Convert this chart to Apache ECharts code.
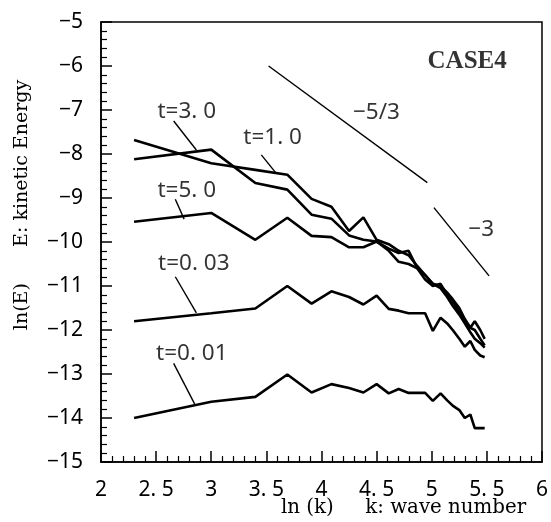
<!DOCTYPE html>
<html>
<head>
<meta charset="utf-8">
<script src="https://cdn.jsdelivr.net/npm/echarts@6/dist/echarts.min.js"></script>
<style>html,body{margin:0;padding:0;background:#fff}#c{width:551px;height:522px}</style>
</head>
<body>
<div id="c"></div>
<script>
// ln(k) positions of the spectrum samples
var lnK = [2.30, 3.00, 3.40, 3.69, 3.91, 4.09, 4.25, 4.38, 4.50, 4.61, 4.70, 4.79, 4.87, 4.94, 5.01, 5.08, 5.14, 5.19, 5.25, 5.30, 5.35, 5.39, 5.44, 5.48];
// ln(E) for each time
var e_t001 = [-14.0, -13.63, -13.52, -13.01, -13.42, -13.23, -13.32, -13.42, -13.23, -13.44, -13.34, -13.43, -13.43, -13.43, -13.61, -13.44, -13.6, -13.72, -13.82, -14.0, -13.92, -14.23, -14.23, -14.23];
var e_t003 = [-11.80, -11.62, -11.51, -11.0, -11.40, -11.12, -11.25, -11.42, -11.22, -11.52, -11.56, -11.62, -11.62, -11.62, -12.02, -11.72, -11.85, -12.0, -12.2, -12.38, -12.25, -12.45, -12.58, -12.62];
var e_t10 = [-7.68, -8.21, -8.36, -8.47, -9.02, -9.20, -9.75, -9.44, -9.95, -10.05, -10.2, -10.3, -10.55, -10.75, -10.95, -11.0, -11.15, -11.3, -11.5, -11.75, -11.95, -11.8, -12.0, -12.2];
var e_t30 = [-8.12, -7.90, -8.66, -8.81, -9.38, -9.47, -9.85, -9.95, -9.99, -10.15, -10.25, -10.2, -10.6, -10.85, -11.0, -10.95, -11.2, -11.35, -11.6, -11.8, -11.95, -12.0, -12.2, -12.35];
var e_t50 = [-9.54, -9.34, -9.95, -9.45, -9.86, -9.89, -10.12, -10.12, -9.99, -10.2, -10.45, -10.5, -10.6, -10.75, -10.95, -11.05, -11.25, -11.45, -11.65, -11.85, -12.05, -12.2, -12.3, -12.4];
// reference slope lines [x0,y0,x1,y1]
var slope53 = [3.52, -6.0, 4.96, -8.65];
var slope3 = [5.02, -9.22, 5.52, -10.77];
// leader lines from labels to curves
var leaders = [
  [2.659, -7.25, 2.865, -7.91],
  [3.454, -8.02, 3.59, -8.44],
  [2.674, -9.03, 2.754, -9.48],
  [2.674, -10.79, 2.865, -11.61],
  [2.659, -12.76, 2.849, -13.68]
];
var labelTexts = ['t=3. 0', 't=1. 0', 't=5. 0', 't=0. 03', 't=0. 01', '\u22125/3', '\u22123'];
var labelX = [2.778, 3.557, 2.778, 2.842, 2.824, 4.498, 5.448];
var labelY = [-7.045, -7.636, -8.84, -10.5, -12.545, -7.07, -9.727];
var caseText = 'CASE4';
var caseX = 5.321, caseY = -5.91;
var xTickLabels = ['2', '2. 5', '3', '3. 5', '4', '4. 5', '5', '5. 5', '6'];
var yTickLabels = ['\u221215', '\u221214', '\u221213', '\u221212', '\u221211', '\u221210', '\u22129', '\u22128', '\u22127', '\u22126', '\u22125'];
var xTitle = 'ln (k)     k: wave number';
var yTitle = 'ln(E)      E: kinetic Energy';

function pairs(ys) { return lnK.map(function (x, i) { return [x, ys[i]]; }); }
var curveStyle = { color: '#000', width: 2.6 };
var thin = { color: '#000', width: 1.4 };
var series = [];
[e_t001, e_t003, e_t10, e_t30, e_t50].forEach(function (ys) {
  series.push({ type: 'line', data: pairs(ys), symbol: 'none', lineStyle: curveStyle, silent: true, animation: false });
});
[slope53, slope3].concat(leaders).forEach(function (s) {
  series.push({ type: 'line', data: [[s[0], s[1]], [s[2], s[3]]], symbol: 'none', lineStyle: thin, silent: true, animation: false });
});
series.push({
  type: 'scatter', symbolSize: 0, animation: false, silent: true,
  data: labelTexts.map(function (t, i) { return { value: [labelX[i], labelY[i]], name: t }; }),
  label: { show: true, position: 'inside', formatter: function (p) { return p.name; }, color: '#000', fontFamily: 'Noto Sans', fontSize: 22.5 }
});
series.push({
  type: 'scatter', symbolSize: 0, animation: false, silent: true,
  data: [{ value: [caseX, caseY], name: caseText }],
  label: { show: true, position: 'inside', formatter: function (p) { return p.name; }, color: '#000', fontFamily: 'Liberation Serif', fontWeight: 'bold', fontSize: 25 }
});

var chart = echarts.init(document.getElementById('c'));
chart.setOption({
  backgroundColor: '#fff',
  animation: false,
  grid: { left: 101, right: 8, top: 22, bottom: 60, show: true, borderColor: '#000', borderWidth: 1.5, backgroundColor: 'transparent', z: 0 },
  xAxis: {
    type: 'value', min: 2, max: 6, interval: 0.5, z: 5,
    axisLine: { show: true, onZero: false, lineStyle: { color: '#000', width: 1.5 } },
    axisTick: { show: true, inside: true, length: 11, lineStyle: { color: '#000', width: 1.5 } },
    minorTick: { show: true, splitNumber: 5, length: 6, lineStyle: { color: '#000', width: 1.2 } },
    splitLine: { show: false },
    axisLabel: { show: true, margin: 21, color: '#000', fontFamily: 'Noto Sans', fontSize: 21, lineHeight: 14,
      formatter: function (v) { return xTickLabels[Math.round((v - 2) / 0.5)]; } }
  },
  yAxis: {
    type: 'value', min: -15, max: -5, interval: 1, z: 5,
    axisLine: { show: true, onZero: false, lineStyle: { color: '#000', width: 1.5 } },
    axisTick: { show: true, inside: true, length: 11, lineStyle: { color: '#000', width: 1.5 } },
    minorTick: { show: true, splitNumber: 5, length: 6, lineStyle: { color: '#000', width: 1.2 } },
    splitLine: { show: false },
    axisLabel: { show: true, margin: 18, color: '#000', fontFamily: 'Noto Sans', fontSize: 21,
      formatter: function (v) { return yTickLabels[Math.round(v + 15)]; } }
  },
  graphic: [
    { type: 'text', x: 281, y: 508, style: { text: xTitle, font: '19.8px "DejaVu Serif"', fill: '#000', align: 'left', verticalAlign: 'middle', lineHeight: 15 } },
    { type: 'text', x: 22, y: 205, rotation: Math.PI / 2, style: { text: yTitle, font: '19px "DejaVu Serif"', fill: '#000', align: 'center', verticalAlign: 'middle' } }
  ],
  series: series
});
</script>
</body>
</html>
